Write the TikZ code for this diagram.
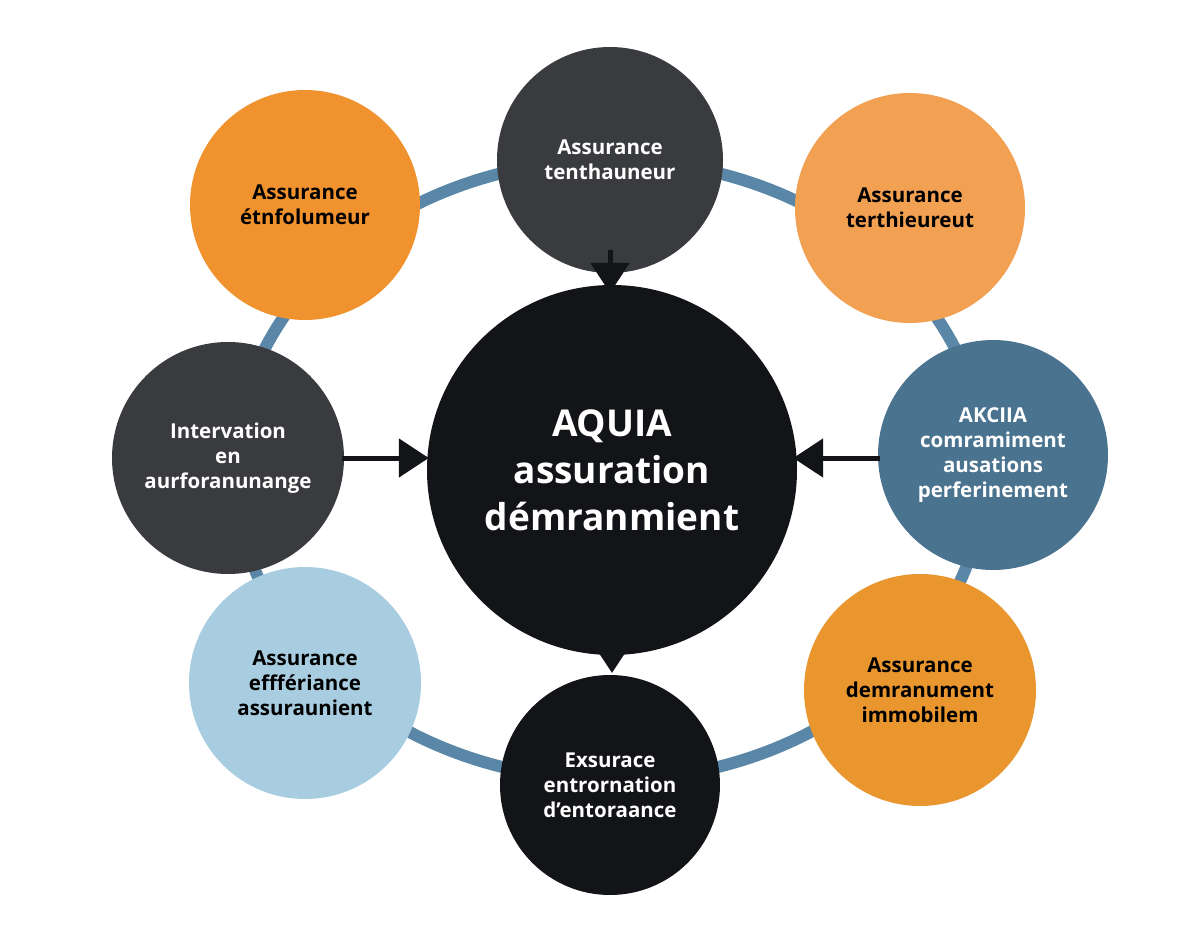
\documentclass[tikz,border=0pt]{standalone}
\usepackage{fontspec}
\setmainfont{Open Sans}
\usetikzlibrary{arrows.meta}
\definecolor{ring}{HTML}{5A87A8}
\definecolor{dgray}{HTML}{3A3B3F}
\definecolor{blk}{HTML}{121418}
\definecolor{or1}{HTML}{F0922E}
\definecolor{or2}{HTML}{F2A052}
\definecolor{or3}{HTML}{E9962F}
\definecolor{blu}{HTML}{4A7390}
\definecolor{lblu}{HTML}{A9CDE0}
\begin{document}
\begin{tikzpicture}[x=1pt,y=-1pt,
  c/.style={circle,draw=none,align=center,font=\bfseries\fontsize{20.5}{25}\selectfont,inner sep=0pt},
  arr/.style={line width=5pt,draw=blk,-{Triangle[length=30pt,width=38pt]}}]
\useasboundingbox[fill=white] (0,0) rectangle (1200,933);
\draw[ring,line width=12pt] (610,470) ellipse [x radius=375,y radius=310];
\node[c,fill=dgray,minimum size=226pt,text=white] (top) at (610,160) {Assurance\\tenthauneur};
\node[c,fill=or1,minimum size=230pt,text=black] (tl) at (305,205) {Assurance\\étnfolumeur};
\node[c,fill=or2,minimum size=230pt,text=black] (tr) at (910,208) {Assurance\\terthieureut};
\node[c,fill=dgray,minimum size=232pt,text=white] (l) at (228,458) {Intervation\\en\\aurforanunange};
\node[c,fill=blu,minimum size=230pt,text=white] (r) at (993,455) {AKCIIA\\comramiment\\ausations\\perferinement};
\node[c,fill=lblu,minimum size=232pt,text=black] (bl) at (305,683) {Assurance\\efffériance\\assuraunient};
\node[c,fill=blk,minimum size=220pt,text=white] (b) at (610,785) {Exsurace\\entrornation\\d’entoraance};
\node[c,fill=or3,minimum size=232pt,text=black] (br) at (920,690) {Assurance\\demranument\\immobilem};
\node[c,fill=blk,minimum size=370pt,text=white,font=\bfseries\fontsize{37}{47}\selectfont] (ctr) at (612,470) {AQUIA\\assuration\\démranmient};
\coordinate (ta) at (610,250);
\coordinate (tb) at (610,293);
\coordinate (ba) at (612,635);
\coordinate (bb) at (612,673);
\draw[arr] (ta) -- (tb);
\draw[arr] ([xshift=-2pt]l.east) -- ([xshift=2pt]l.east -| ctr.west);
\draw[arr] ([xshift=2pt]r.west |- l.east) -- ([xshift=-4pt]l.east -| ctr.east);
\draw[arr] (ba) -- (bb);
\end{tikzpicture}
\end{document}
